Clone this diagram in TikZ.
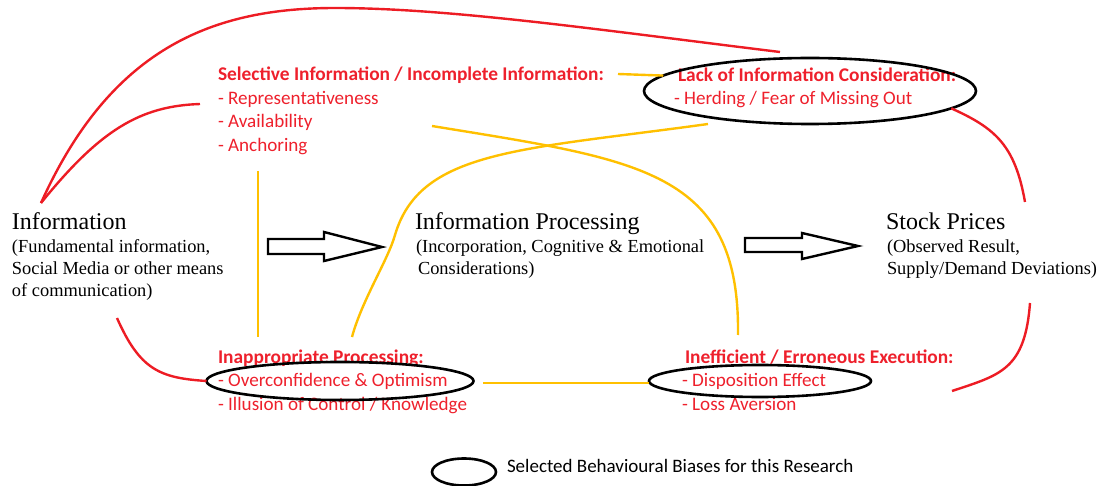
\documentclass[tikz,border=0pt]{standalone}
\usepackage{fontspec}
\setmainfont{Liberation Serif}
\newfontfamily\calib{Carlito}
\usetikzlibrary{shapes.geometric}
\definecolor{linered}{RGB}{237,28,36}
\definecolor{textred}{RGB}{238,32,44}
\definecolor{amber}{RGB}{255,192,0}
\begin{document}
\begin{tikzpicture}[x=1pt,y=-1pt,
  every node/.style={inner sep=0pt, outer sep=0pt, anchor=base west},
  headtext/.style={font=\fontsize{24}{28}\selectfont},
  subtext/.style={font=\fontsize{18.4}{22}\selectfont},
  bias/.style={font=\calib\fontsize{19.1}{23}\selectfont, text=textred},
  biashead/.style={font=\calib\bfseries\fontsize{19.4}{23}\selectfont, text=textred},
  keytext/.style={font=\calib\fontsize{19}{23}\selectfont},
  ring/.style={ellipse, draw=black, line width=2.6pt, anchor=center},
  redline/.style={draw=linered, line width=2.4pt},
  amberline/.style={draw=amber, line width=2.4pt},
  blockarrow/.style={draw=black, line width=2.4pt, line join=miter}]
\useasboundingbox (0,0) rectangle (1109,486);

% main stages
\node[headtext] (info) at (12,230) {Information};
\node[subtext] (info1) at (12,253) {(Fundamental information,};
\node[subtext] (info2) at (12,275) {Social Media or other means};
\node[subtext] (info3) at (12,297) {of communication)};
\node[headtext] (proc) at (415,230) {Information Processing};
\node[subtext] (proc1) at (416,253) {(Incorporation, Cognitive \& Emotional};
\node[subtext] (proc2) at (418,275) {Considerations)};
\node[headtext] (stock) at (886,230) {Stock Prices};
\node[subtext] (stock1) at (887,253) {(Observed Result,};
\node[subtext] (stock2) at (887,275) {Supply/Demand Deviations)};

% bias groups
\node[biashead] (sel) at (218,81) {Selective Information / Incomplete Information:};
\node[bias] (sel1) at (218,105) {- Representativeness};
\node[bias] (sel2) at (218,128) {- Availability};
\node[bias] (sel3) at (218,152) {- Anchoring};
\node[biashead] (lack) at (678,82) {Lack of Information Consideration:};
\node[bias] (lack1) at (674,105) {- Herding / Fear of Missing Out};
\node[biashead] (inap) at (218,363) {Inappropriate Processing:};
\node[bias] (inap1) at (218,387) {- Overconfidence \& Optimism};
\node[bias] (inap2) at (218,410) {- Illusion of Control / Knowledge};
\node[biashead] (ineff) at (685,363) {Inefficient / Erroneous Execution:};
\node[bias] (ineff1) at (682,387) {- Disposition Effect};
\node[bias] (ineff2) at (682,410) {- Loss Aversion};

% key
\node[keytext] (keylabel) at (507,472) {Selected Behavioural Biases for this Research};

% rings around the selected biases
\node[ring, minimum width=332pt, minimum height=66pt] (ringlack) at (810,91) {};
\node[ring, minimum width=267pt, minimum height=38pt] (ringover) at (340,381) {};
\node[ring, minimum width=222pt, minimum height=32pt] (ringdisp) at (760,381) {};
\node[ring, minimum width=64pt, minimum height=27pt] (ringkey) at (464,472) {};

% flow arrows
\draw[blockarrow] (268,239) -- (324,239) -- (324,232) -- (382,247) -- (324,261) -- (324,254) -- (268,254) -- cycle;
\draw[blockarrow] (745,238) -- (802,238) -- (802,233) -- (858,246) -- (802,259) -- (802,252) -- (745,252) -- cycle;

% connector ends
\coordinate (infotop) at (41,203);
\coordinate (topend) at (780,52);
\coordinate (selin) at (200,104);
\coordinate (stocktop) at (1025,202);
\coordinate (infobot) at (117,318);
\coordinate (stockbot) at (1030,303);
\coordinate (execend) at (952,391);
\coordinate (selend) at (618,74);
\coordinate (anchtop) at (258,171);
\coordinate (anchbot) at (258,337);
\coordinate (repend) at (432,126);
\coordinate (effend) at (738,335);
\coordinate (herdlow) at (708,124);
\coordinate (overtop) at (352,337);
\coordinate (overend) at (483,383);

% red links
\draw[redline] (infotop) .. controls (110,50) and (210,8) .. (335,8) .. controls (450,8) and (600,30) .. (topend);
\draw[redline] (infotop) .. controls (100,130) and (140,106) .. (selin);
\draw[redline] (ringlack.-7) .. controls (995,128) and (1015,145) .. (stocktop);
\draw[redline] (infobot) .. controls (140,370) and (160,378) .. (ringover.west);
\draw[redline] (stockbot) .. controls (1025,370) and (1000,375) .. (execend);

% amber links
\draw[amberline] (selend) -- (ringlack.174);
\draw[amberline] (anchtop) -- (anchbot);
\draw[amberline] (repend) .. controls (640,160) and (740,170) .. (effend);
\draw[amberline] (herdlow) .. controls (520,150) and (420,150) .. (395,235) .. controls (388,260) and (362,300) .. (overtop);
\draw[amberline] (overend) -- (overend -| ringdisp.west);
\end{tikzpicture}
\end{document}
